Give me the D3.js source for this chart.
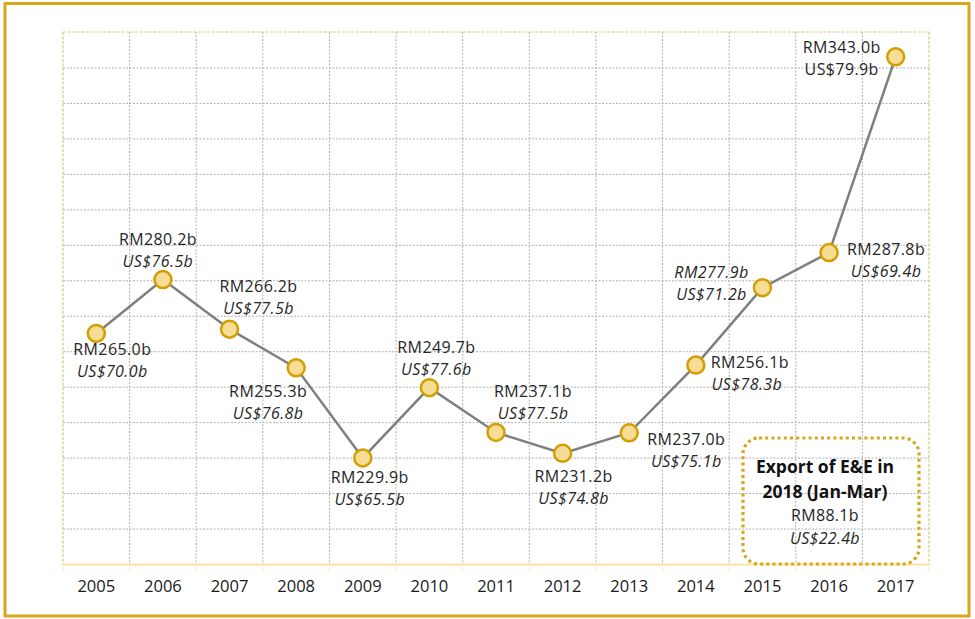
<!DOCTYPE html>
<html>
<head>
<meta charset="utf-8">
<script src="https://cdn.jsdelivr.net/npm/d3@7"></script>
<style>
  html, body { margin: 0; padding: 0; background: #fff; }
  svg { display: block; font-family: "Open Sans", "DejaVu Sans", sans-serif; }
</style>
</head>
<body>
<svg id="chart" width="975" height="619"></svg>
<script>
// ---- data ----
const years = ["2005","2006","2007","2008","2009","2010","2011","2012","2013","2014","2015","2016","2017"];
const rmValues = [265.0, 280.2, 266.2, 255.3, 229.9, 249.7, 237.1, 231.2, 237.0, 256.1, 277.9, 287.8, 343.0];
const usdValues = [70.0, 76.5, 77.5, 76.8, 65.5, 77.6, 77.5, 74.8, 75.1, 78.3, 71.2, 69.4, 79.9];
const yTicks = [200, 210, 220, 230, 240, 250, 260, 270, 280, 290, 300, 310, 320, 330, 340, 350];
const boxTitle = ["Export of E&E in", "2018 (Jan-Mar)"];
const boxRm = 88.1;
const boxUsd = 22.4;

// ---- label layout (offsets from each point, px) ----
const labelDx = [16, -5, 29, -28, 7, 7, 37, 11, 57, 54, -51, 57, -54];
const labelDy = [22, -35, -37, 29, 25, -35, -35, 29, 12, 3, -10, 2, -4];
const rmItalic = [false,false,false,false,false,false,false,false,false,false,true,false,false];
const usdItalic = [true,true,true,true,true,true,true,true,true,true,true,true,false];

const svg = d3.select("#chart");
const margin = {left: 63, right: 46, top: 32, bottom: 55};
const W = 975, H = 619;
const x = d3.scaleBand().domain(years).range([margin.left, W - margin.right]);
const y = d3.scaleLinear().domain([200, 350]).range([H - margin.bottom, margin.top]);

const gold = "#D9A51C";

// outer frame
svg.append("rect")
  .attr("x", 5).attr("y", 3.5).attr("width", 964).attr("height", 612.5)
  .attr("fill", "none").attr("stroke", gold).attr("stroke-width", 3);

// horizontal gridlines
const yAxis = d3.axisLeft(y).tickValues(yTicks.slice(1, -1)).tickSize(-(x.range()[1] - x.range()[0])).tickFormat("");
const gy = svg.append("g").attr("transform", `translate(${margin.left},0)`).call(yAxis);
gy.select(".domain").remove();
gy.selectAll(".tick line").attr("stroke", "#b0b0b0").attr("stroke-dasharray", "2,1.5").attr("stroke-width", 1);

// vertical gridlines at band boundaries
const bounds = years.map(d => x(d)).concat([x.range()[1]]);
svg.append("g").selectAll("line").data(bounds.slice(1, -1)).join("line")
  .attr("x1", d => d).attr("x2", d => d)
  .attr("y1", y(350)).attr("y2", y(200))
  .attr("stroke", "#b0b0b0").attr("stroke-dasharray", "2,1.5").attr("stroke-width", 1);

// plot-area border (top, left, right) dashed pale gold
const border = svg.append("g").attr("stroke", "#dcc48e").attr("stroke-dasharray", "3,1.5").attr("stroke-width", 1.2);
border.append("line").attr("x1", x.range()[0]).attr("x2", x.range()[1]).attr("y1", y(350)).attr("y2", y(350));
border.append("line").attr("x1", x.range()[0]).attr("x2", x.range()[0]).attr("y1", y(350)).attr("y2", y(200));
border.append("line").attr("x1", x.range()[1]).attr("x2", x.range()[1]).attr("y1", y(350)).attr("y2", y(200));

// bottom axis
const xAxis = d3.axisBottom(x).tickSize(0).tickPadding(12);
const gx = svg.append("g").attr("transform", `translate(0,${y(200)})`).call(xAxis);
gx.select(".domain").attr("stroke", "#fbe2a4").attr("stroke-width", 2);
gx.selectAll(".tick text").attr("font-size", 16.5).attr("fill", "#1a1a1a")
  .attr("font-family", "'Open Sans', sans-serif").attr("dy", "0.95em");
svg.append("g").selectAll("line").data(bounds).join("line")
  .attr("x1", d => d).attr("x2", d => d)
  .attr("y1", y(200)).attr("y2", y(200) + 8)
  .attr("stroke", "#fbe2a4").attr("stroke-dasharray", "2,1.5").attr("stroke-width", 1.2);

// info box
const bx = 743, by = 438, bw = 176, bh = 126;
svg.append("rect")
  .attr("x", bx).attr("y", by).attr("width", bw).attr("height", bh)
  .attr("rx", 16).attr("ry", 16)
  .attr("fill", "none").attr("stroke", gold).attr("stroke-width", 3.2)
  .attr("stroke-dasharray", "3,3.2");
const bt = svg.append("g").attr("text-anchor", "middle").attr("fill", "#111").attr("font-size", 16);
bt.append("text").attr("x", 825).attr("y", 473).attr("font-weight", "bold").attr("font-size", 17.5).text(boxTitle[0]);
bt.append("text").attr("x", 825).attr("y", 498).attr("font-weight", "bold").attr("font-size", 17.5).text(boxTitle[1]);
bt.append("text").attr("x", 825).attr("y", 521).attr("fill", "#262626").attr("letter-spacing", 0.3).text(`RM${boxRm.toFixed(1)}b`);
bt.append("text").attr("x", 825).attr("y", 544).attr("fill", "#262626").attr("letter-spacing", 0.3).attr("font-style", "italic").text(`US$${boxUsd.toFixed(1)}b`);

// line
const pts = years.map((d, i) => ({year: d, rm: rmValues[i], usd: usdValues[i], i}));
const cx = d => x(d.year) + x.bandwidth() / 2;
svg.append("path").datum(pts)
  .attr("fill", "none").attr("stroke", "#7f7f7f").attr("stroke-width", 2.5)
  .attr("d", d3.line().x(cx).y(d => y(d.rm)));

// markers
svg.append("g").selectAll("circle").data(pts).join("circle")
  .attr("cx", cx).attr("cy", d => y(d.rm)).attr("r", 8.5)
  .attr("fill", "#F6DC95").attr("stroke", "#D29E00").attr("stroke-width", 2.5);

// labels
const lg = svg.append("g").attr("text-anchor", "middle").attr("fill", "#262626").attr("font-size", 16);
lg.selectAll("text.rm").data(pts).join("text").attr("class", "rm")
  .attr("x", d => cx(d) + labelDx[d.i]).attr("y", d => y(d.rm) + labelDy[d.i])
  .attr("font-style", d => rmItalic[d.i] ? "italic" : "normal")
  .attr("letter-spacing", 0.4)
  .text(d => `RM${d.rm.toFixed(1)}b`);
lg.selectAll("text.usd").data(pts).join("text").attr("class", "usd")
  .attr("x", d => cx(d) + labelDx[d.i] - (d.i === 9 ? 3 : 0))
  .attr("y", d => y(d.rm) + labelDy[d.i] + 22)
  .attr("font-style", d => usdItalic[d.i] ? "italic" : "normal")
  .attr("letter-spacing", 0.4)
  .text(d => `US$${d.usd.toFixed(1)}b`);
</script>
</body>
</html>
